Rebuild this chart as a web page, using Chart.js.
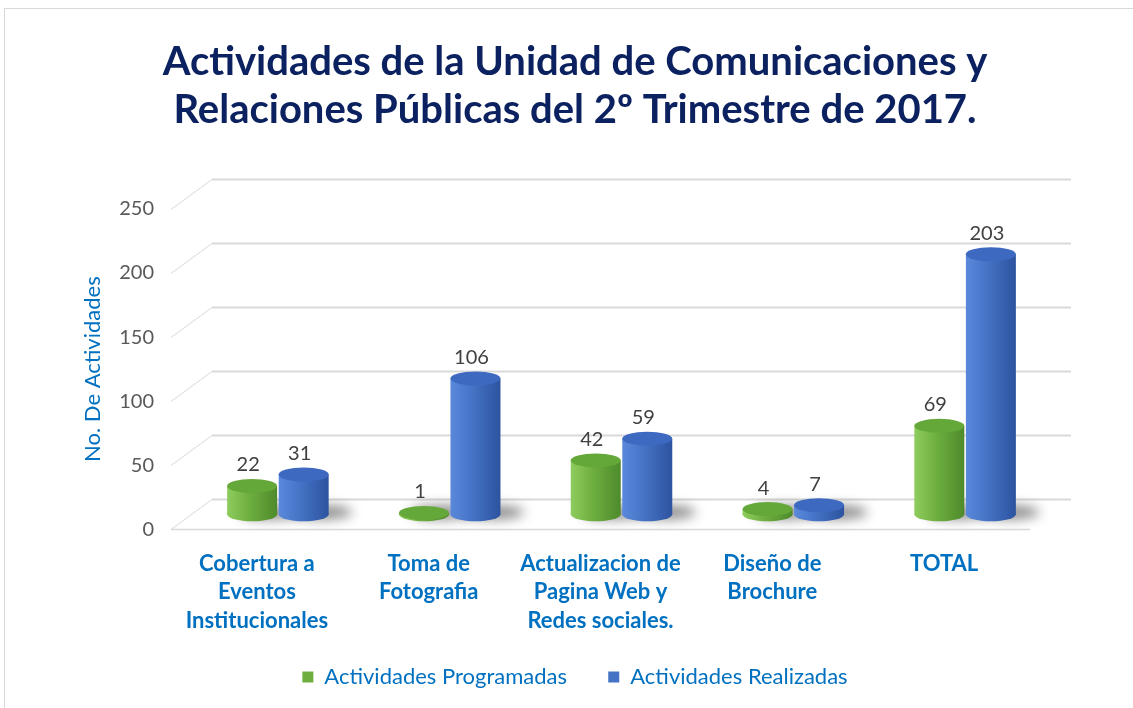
<!DOCTYPE html>
<html><head><meta charset="utf-8">
<script src="https://cdn.jsdelivr.net/npm/chart.js@4.4.0/dist/chart.umd.min.js"></script>
<style>
html,body{margin:0;padding:0;background:#fff;overflow:hidden;}
#wrap{position:relative;width:1133px;height:708px;}
#frame{position:absolute;left:4px;top:8px;width:1140px;height:720px;border:1px solid #d9d9d9;}
canvas{position:absolute;left:0;top:0;}
</style></head><body>
<div id="wrap"><div id="frame"></div><canvas id="c" width="1133" height="708"></canvas></div>
<script>
const categories = [["Cobertura a","Eventos","Institucionales"],["Toma de","Fotografia"],["Actualizacion de","Pagina Web y","Redes sociales."],["Diseño de","Brochure"],["TOTAL"]];
const programadas = [22, 1, 42, 4, 69];
const realizadas = [31, 106, 59, 7, 203];
const seriesNames = ["Actividades Programadas", "Actividades Realizadas"];
const titleLines = ["Actividades de la Unidad de Comunicaciones y", "Relaciones Públicas del 2º Trimestre de 2017."];
const yAxisTitle = "No. De Actividades";
const yMin = 0, yMax = 250, yStep = 50;

const PAL = [
  {main:'#6DAE3F', light:'#8FCC5E', dark:'#4E8A2B', top:'#65A83A'},
  {main:'#4472C4', light:'#5A88DA', dark:'#2D539F', top:'#3D69C0'}
];
const DX = 21, DY = -15, BX = 41, BY = -30;
const FONT = 'Lato, "Open Sans", sans-serif';

const cylPlugin = {
  id: 'cyl',
  beforeDatasetsDraw(chart) {
    const {ctx, chartArea: a, scales: {y}} = chart;
    ctx.save();
    ctx.strokeStyle = '#d9d9d9';
    y.ticks.forEach(t => {
      const py = Math.round(y.getPixelForValue(t.value)) + 0.5;
      ctx.lineWidth = 1;
      ctx.beginPath(); ctx.moveTo(a.left, py); ctx.lineTo(a.left + BX, py + BY); ctx.stroke();
      ctx.lineWidth = 2;
      ctx.beginPath(); ctx.moveTo(a.left + BX, py + BY); ctx.lineTo(a.right + BX, py + BY); ctx.stroke();
    });
    const y0 = Math.round(y.getPixelForValue(0)) + 0.5;
    ctx.lineWidth = 1.5;
    ctx.beginPath(); ctx.moveTo(a.left, y0); ctx.lineTo(a.right, y0); ctx.stroke();
    ctx.restore();

    ctx.save();
    ctx.translate(DX, DY);
    const items = [];
    chart.data.datasets.forEach((ds, i) => {
      const meta = chart.getDatasetMeta(i);
      meta.data.forEach(el => {
        const w = el.width, x = el.x;
        const g = ctx.createLinearGradient(x - w / 2, 0, x + w / 2, 0);
        g.addColorStop(0, PAL[i].light);
        g.addColorStop(0.45, PAL[i].main);
        g.addColorStop(1, PAL[i].dark);
        el.options = Object.assign({}, el.options, {backgroundColor: g, borderWidth: 0});
        items.push({el, g});
      });
    });
    items.forEach(({el}) => {
      ctx.save();
      ctx.filter = 'blur(6px)';
      ctx.fillStyle = 'rgba(0,0,0,0.45)';
      ctx.beginPath();
      ctx.ellipse(el.x + el.width * 0.35, el.base - 2, el.width * 0.62, 7, 0, 0, Math.PI * 2);
      ctx.fill();
      ctx.restore();
    });
    items.forEach(({el, g}) => {
      ctx.fillStyle = g;
      ctx.beginPath();
      ctx.ellipse(el.x, el.base, el.width / 2, 7, 0, 0, Math.PI * 2);
      ctx.fill();
    });
  },
  afterDatasetsDraw(chart) {
    const {ctx} = chart;
    chart.data.datasets.forEach((ds, i) => {
      const meta = chart.getDatasetMeta(i);
      meta.data.forEach((el, j) => {
        ctx.fillStyle = PAL[i].top;
        ctx.beginPath();
        ctx.ellipse(el.x, el.y, el.width / 2, 7, 0, 0, Math.PI * 2);
        ctx.fill();
        ctx.fillStyle = '#404040';
        ctx.font = '20px ' + FONT;
        ctx.textAlign = 'center';
        ctx.textBaseline = 'middle';
        ctx.fillText(String(ds.data[j]), el.x - 4, el.y - 21);
      });
    });
    ctx.restore();
  }
};

new Chart(document.getElementById('c'), {
  type: 'bar',
  data: {
    labels: categories,
    datasets: [
      {label: seriesNames[0], data: programadas, backgroundColor: PAL[0].main, borderWidth: 0},
      {label: seriesNames[1], data: realizadas, backgroundColor: PAL[1].main, borderWidth: 0}
    ]
  },
  options: {
    responsive: false,
    animation: false,
    devicePixelRatio: 1,
    categoryPercentage: 0.6,
    barPercentage: 0.97,
    layout: {padding: {left: 17, right: 0, top: 0, bottom: 10}},
    plugins: {
      tooltip: {enabled: false},
      title: {
        display: true,
        text: titleLines,
        color: '#0B2160',
        font: {family: FONT, size: 40, weight: 'bold', lineHeight: 1.2},
        padding: {top: 38, bottom: 75}
      },
      legend: {
        position: 'bottom',
        labels: {
          color: '#0070C0',
          font: {family: FONT, size: 22, lineHeight: 1.0},
          boxWidth: 11, boxHeight: 11, padding: 30,
          generateLabels(chart) {
            const items = Chart.defaults.plugins.legend.labels.generateLabels(chart);
            items.forEach((it, k) => { if (k < items.length - 1) it.text = it.text + '\u00A0\u00A0'; });
            return items;
          }
        }
      }
    },
    scales: {
      x: {
        grid: {display: false, drawTicks: false},
        border: {display: false},
        ticks: {
          color: '#0070C0',
          font: {family: FONT, size: 22, weight: 'bold', lineHeight: 1.3},
          padding: 20,
          maxRotation: 0, autoSkip: false
        },
        afterFit(scale) { scale.height -= 19; }
      },
      y: {
        min: yMin, max: yMax,
        grid: {display: false, drawTicks: false},
        border: {display: false},
        ticks: {
          stepSize: yStep,
          color: '#595959',
          font: {family: FONT, size: 20},
          padding: 17
        },
        title: {
          display: true,
          text: yAxisTitle,
          color: '#0070C0',
          font: {family: FONT, size: 22, lineHeight: 1.2},
          padding: {top: 63, bottom: 0}
        },
        afterFit(scale) { scale.width = 154; }
      },
      yRight: {
        type: 'linear',
        position: 'right',
        display: true,
        grid: {display: false, drawTicks: false},
        border: {display: false},
        ticks: {display: false},
        afterFit(scale) { scale.width = 103; }
      }
    }
  },
  plugins: [cylPlugin]
});
</script>
</body></html>
